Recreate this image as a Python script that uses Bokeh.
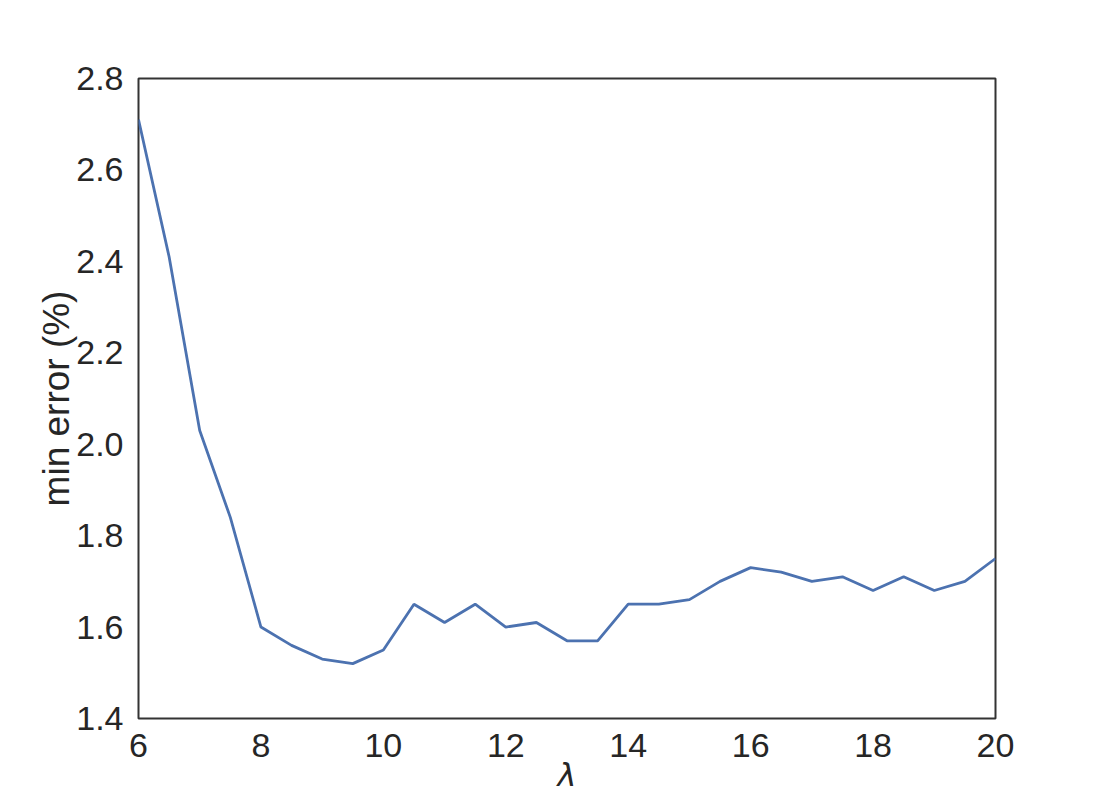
from bokeh.plotting import figure
from bokeh.models import Range1d, FixedTicker, NumeralTickFormatter
from bokeh.embed import file_html
from bokeh.resources import INLINE

lam = [6, 6.5, 7, 7.5, 8, 8.5, 9, 9.5, 10, 10.5, 11, 11.5, 12, 12.5, 13, 13.5,
       14, 14.5, 15, 15.5, 16, 16.5, 17, 17.5, 18, 18.5, 19, 19.5, 20]
min_error = [2.71, 2.41, 2.03, 1.84, 1.60, 1.56, 1.53, 1.52, 1.55, 1.65, 1.61, 1.65,
             1.60, 1.61, 1.57, 1.57, 1.65, 1.65, 1.66, 1.70, 1.73, 1.72, 1.70, 1.71,
             1.68, 1.71, 1.68, 1.70, 1.75]
x_ticks = [6, 8, 10, 12, 14, 16, 18, 20]
y_ticks = [1.4, 1.6, 1.8, 2.0, 2.2, 2.4, 2.6, 2.8]
x_label = "λ"
y_label = "min error (%)"

W, H = 1100, 796
p = figure(width=W, height=H, output_backend="svg", toolbar_location=None,
           x_range=Range1d(6, 20), y_range=Range1d(1.4, 2.8),
           min_border_left=138, min_border_right=W - 995,
           min_border_top=78, min_border_bottom=H - 718)
p.line(lam, min_error, line_color="#4C72B0", line_width=2.8)

p.grid.visible = False
p.outline_line_color = "#333333"
p.outline_line_width = 2
p.background_fill_color = "white"
p.border_fill_color = "white"

for ax in (p.xaxis[0], p.yaxis[0]):
    ax.axis_line_color = None
    ax.major_tick_line_color = None
    ax.minor_tick_line_color = None
    ax.major_label_text_font = "Liberation Sans"
    ax.major_label_text_font_size = "34px"
    ax.major_label_text_color = "#262626"
    ax.major_label_standoff = 9
    ax.axis_label_text_font = "Liberation Sans"
    ax.axis_label_text_font_size = "37px"
    ax.axis_label_text_color = "#262626"
    ax.axis_label_text_font_style = "normal"

p.xaxis.ticker = FixedTicker(ticks=x_ticks)
p.yaxis.ticker = FixedTicker(ticks=y_ticks)
p.yaxis.formatter = NumeralTickFormatter(format="0.0")
p.yaxis.axis_label = y_label
p.yaxis.axis_label_standoff = -4

p.xaxis.axis_label = x_label
p.xaxis.axis_label_text_font = "DejaVu Sans"
p.xaxis.axis_label_text_font_style = "italic"
p.xaxis.axis_label_text_font_size = "32px"
p.xaxis.axis_label_standoff = -4

open("out.html", "w").write(file_html(p, INLINE))
